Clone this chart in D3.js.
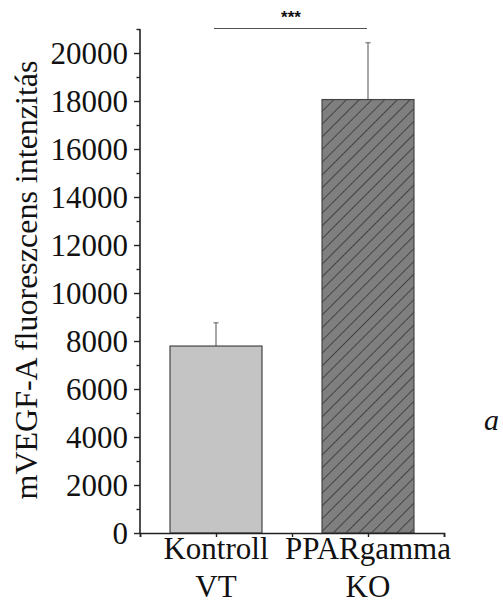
<!DOCTYPE html>
<html>
<head>
<meta charset="utf-8">
<script src="https://cdn.jsdelivr.net/npm/d3@7"></script>
<style>
  html, body { margin: 0; padding: 0; background: #fff; }
  svg { display: block; }
</style>
</head>
<body>
<svg id="chart" width="503" height="602"></svg>
<script>
// Group names (two-line labels) and their positions on the x axis
const groupLine1 = ["Kontroll", "PPARgamma"];
const groupLine2 = ["VT", "KO"];
const groupPos = [1, 3];
// Mean fluorescence intensity and upper error (mean + SD)
const means = [7790, 18060];
const errTops = [8760, 20430];
const fills = ["#c4c4c4", "#7f7f7f"];
const hatched = [false, true];
// Axis ticks
const yMajorTicks = [0, 2000, 4000, 6000, 8000, 10000, 12000, 14000, 16000, 18000, 20000];
const yMinorTicks = [1000, 3000, 5000, 7000, 9000, 11000, 13000, 15000, 17000, 19000, 21000];
const xTicks = [0, 1, 2, 3, 4];
const yLabel = "mVEGF-A fluoreszcens intenzitás";
const sigText = "***";
const panelLetter = "a";

const SERIF = '"Liberation Serif"';
const SANS = '"Liberation Sans"';

const svg = d3.select("#chart");

const x = d3.scaleLinear().domain([0, 4]).range([140, 444]);
const y = d3.scaleLinear().domain([0, 21000]).range([533, 29]);
const barUnits = 1.21;

// hatch pattern for the knockout bar
const defs = svg.append("defs");
const pat = defs.append("pattern")
  .attr("id", "hatch")
  .attr("patternUnits", "userSpaceOnUse")
  .attr("width", 9).attr("height", 9)
  .attr("patternTransform", "rotate(45)");
pat.append("rect").attr("width", 9).attr("height", 9).attr("fill", fills[1]);
pat.append("line").attr("x1", 0).attr("y1", 0).attr("x2", 0).attr("y2", 9)
  .attr("stroke", "#333").attr("stroke-width", 1.6);

// error bars (upper only)
groupPos.forEach((g, i) => {
  svg.append("line")
    .attr("x1", x(g)).attr("x2", x(g))
    .attr("y1", y(means[i])).attr("y2", y(errTops[i]))
    .attr("stroke", "#8a8a8a").attr("stroke-width", 1.5);
  svg.append("line")
    .attr("x1", x(g) - 2.5).attr("x2", x(g) + 2.5)
    .attr("y1", y(errTops[i])).attr("y2", y(errTops[i]))
    .attr("stroke", "#8a8a8a").attr("stroke-width", 1.5);
});

// bars
const bw = x(barUnits) - x(0);
svg.selectAll("rect.bar").data(means).enter().append("rect")
  .attr("class", "bar")
  .attr("x", (d, i) => x(groupPos[i]) - bw / 2)
  .attr("width", bw)
  .attr("y", d => y(d))
  .attr("height", d => y(0) - y(d))
  .attr("fill", (d, i) => hatched[i] ? "url(#hatch)" : fills[i])
  .attr("stroke", "#444").attr("stroke-width", 1.2);

// y axis: major ticks with labels, minor ticks without
const yAxis = svg.append("g").attr("transform", `translate(${x(0)},0)`)
  .call(d3.axisLeft(y).tickValues(yMajorTicks).tickSize(6).tickPadding(6).tickFormat(d3.format("d")));
yAxis.attr("font-family", null).attr("font-size", null);
yAxis.select(".domain").attr("d", `M0,${y(0)}V${y(21000)}`);
yAxis.selectAll("text")
  .attr("dy", "0.34em").attr("fill", "#111")
  .style("font-family", SERIF).style("font-size", "31px");
const yMinor = svg.append("g").attr("transform", `translate(${x(0)},0)`)
  .call(d3.axisLeft(y).tickValues(yMinorTicks).tickSize(3.5).tickFormat(""));
yMinor.select(".domain").remove();

// x axis
svg.append("g").attr("transform", `translate(0,${y(0)})`)
  .call(d3.axisBottom(x).tickValues(xTicks).tickSize(4).tickFormat(""));
svg.selectAll(".domain").attr("stroke", "#222").attr("stroke-width", 1.6);
svg.selectAll(".tick line").attr("stroke", "#222").attr("stroke-width", 1.4);

// category labels
groupPos.forEach((g, i) => {
  svg.append("text").attr("x", x(g)).attr("y", 559)
    .attr("text-anchor", "middle").attr("fill", "#111")
    .style("font-family", SERIF).style("font-size", "31px").text(groupLine1[i]);
  svg.append("text").attr("x", x(g)).attr("y", 597)
    .attr("text-anchor", "middle").attr("fill", "#111")
    .style("font-family", SERIF).style("font-size", "31px").text(groupLine2[i]);
});

// y axis title
svg.append("text")
  .attr("transform", "translate(37,280) rotate(-90)")
  .attr("text-anchor", "middle").attr("fill", "#111")
  .style("font-family", SERIF).style("font-size", "32px")
  .text(yLabel);

// significance bracket
svg.append("line")
  .attr("x1", x(groupPos[0]) - 2).attr("x2", x(groupPos[1]) - 1)
  .attr("y1", 28.5).attr("y2", 28.5)
  .attr("stroke", "#555").attr("stroke-width", 1.2);
svg.append("text")
  .attr("x", (x(groupPos[0]) + x(groupPos[1])) / 2 - 1).attr("y", 23)
  .attr("text-anchor", "middle").attr("fill", "#111")
  .style("font-family", SANS)
  .style("font-size", "17px").style("font-weight", "bold")
  .text(sigText);

// panel letter
svg.append("text").attr("x", 484).attr("y", 430).attr("fill", "#111")
  .style("font-family", SERIF).style("font-size", "30px").style("font-style", "italic")
  .text(panelLetter);
</script>
</body>
</html>
